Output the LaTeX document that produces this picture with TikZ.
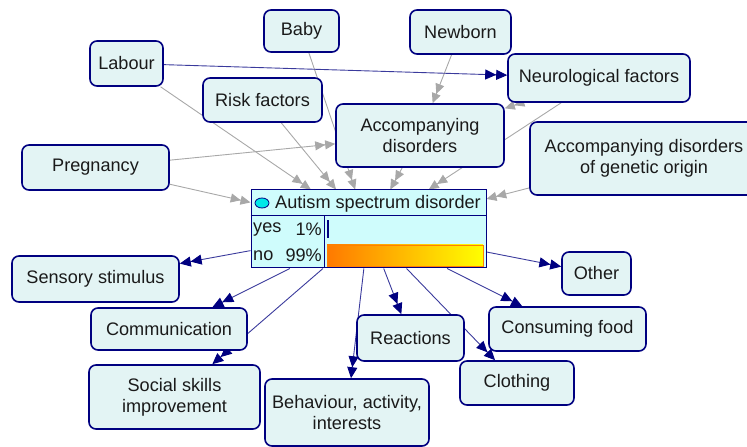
\documentclass[tikz,border=0pt]{standalone}
\usepackage{fontspec}
\setmainfont{Liberation Sans}
\usetikzlibrary{arrows.meta,backgrounds}
\definecolor{navyc}{HTML}{000080}
\definecolor{nodefill}{HTML}{E3F4F4}
\definecolor{autfill}{HTML}{CFFCFC}
\definecolor{txt}{HTML}{1A1A1A}
\definecolor{grayedge}{HTML}{A8A8A8}
\definecolor{navyedge}{HTML}{3A3A9C}
\definecolor{bulb}{HTML}{00E8E8}
\tikzset{
  box/.style={draw=navyc, line width=1.6bp, fill=nodefill, rounded corners=7bp,
    inner sep=0pt, align=center, text=txt, font=\fontsize{18.2}{21}\selectfont},
  lbl/.style={inner sep=0pt, text=txt, font=\fontsize{18.2}{21}\selectfont},
  gedge/.style={grayedge, line width=0.9bp,
    -{Triangle[length=10bp,width=9bp,fill=grayedge] Triangle[length=10bp,width=9bp,fill=grayedge]}},
  nedge/.style={navyedge, line width=0.9bp,
    -{Triangle[length=11bp,width=10bp,color=navyc] Triangle[length=11bp,width=10bp,color=navyc]}},
}
\begin{document}
\begin{tikzpicture}[x=1bp,y=-1bp]
\useasboundingbox (0,0) rectangle (747,447);
\clip (0,0) rectangle (747,447);
% nodes
\node[box, minimum width=75bp, minimum height=42bp] (baby) at (301.5,31) {Baby};
\node[box, minimum width=101bp, minimum height=44bp] (newborn) at (460.5,32) {Newborn};
\node[box, minimum width=73bp, minimum height=45bp] (labour) at (126.5,63.5) {Labour};
\node[box, minimum width=182bp, minimum height=48bp] (neuro) at (599,78) {Neurological factors};
\node[box, minimum width=119bp, minimum height=44bp] (risk) at (262.5,100) {Risk factors};
\node[box, minimum width=168bp, minimum height=63bp] (acc) at (420,135.5) {Accompanying\\disorders};
\node[box, minimum width=228bp, minimum height=73bp] (gen) at (644,158.5) {Accompanying disorders\\of genetic origin};
\node[box, minimum width=147bp, minimum height=45bp] (preg) at (95.5,167.5) {Pregnancy};
\node[box, minimum width=167bp, minimum height=46bp] (sens) at (95.5,279) {Sensory stimulus};
\node[box, minimum width=69bp, minimum height=43bp] (other) at (596.5,273.5) {Other};
\node[box, minimum width=156bp, minimum height=42bp] (comm) at (169,329) {Communication};
\node[box, minimum width=157bp, minimum height=44bp] (food) at (567.5,329) {Consuming food};
\node[box, minimum width=107bp, minimum height=46bp] (react) at (410.5,338) {Reactions};
\node[box, minimum width=114bp, minimum height=44bp] (cloth) at (517,383) {Clothing};
\node[box, minimum width=171bp, minimum height=64bp] (social) at (174.5,397) {Social skills\\improvement};
\node[box, minimum width=164bp, minimum height=67bp] (behav) at (347,412.5) {Behaviour, activity,\\interests};
% autism box
\node[draw=navyc, line width=1bp, fill=autfill, minimum width=235bp, minimum height=78bp, inner sep=0pt] (aut) at (368.5,229) {};
\draw[navyc, line width=1bp] (aut.west |- 0,216) -- (aut.east |- 0,216);
\draw[navyc, line width=1bp] (324,216) -- (aut.south -| 324,0);
\draw[navyc, fill=bulb, line width=0.8bp] (262,203) ellipse [x radius=7, y radius=5];
\node[lbl, anchor=west] (autT) at (275,203.5) {Autism spectrum disorder};
\node[lbl, anchor=west] (yesL) at (253,229.5) {yes};
\node[lbl, anchor=east] (yesP) at (322,229.5) {1\%};
\node[lbl, anchor=west] (noL) at (253,255.5) {no};
\node[lbl, anchor=east] (noP) at (322,255.5) {99\%};
\fill[navyc] (326.5,220) rectangle (328.5,238);
\shade[left color=orange!95!red, right color=yellow] (327,245) rectangle (483,266);
\draw[orange, line width=0.8bp] (327,245) rectangle (483,266);
% edges
\begin{scope}[on background layer]
\draw[gedge] (labour) -- (aut);
\draw[gedge] (baby) -- (aut);
\draw[gedge] (risk) -- (aut);
\draw[gedge] (preg) -- (aut);
\draw[gedge] (acc) -- (aut);
\draw[gedge] (neuro) -- (aut);
\draw[gedge] (gen) -- (aut);
\draw[gedge] (preg) -- (acc);
\draw[gedge] (newborn) -- (acc);
\draw[gedge] (neuro) -- (acc);
\draw[nedge] (labour) -- (neuro);
\draw[nedge] (aut) -- (sens);
\draw[nedge] (aut) -- (comm);
\draw[nedge] (aut) -- (social);
\draw[nedge] (aut) -- (behav);
\draw[nedge] (aut) -- (react);
\draw[nedge] (aut) -- (cloth);
\draw[nedge] (aut) -- (food);
\draw[nedge] (aut) -- (other);
\end{scope}
\end{tikzpicture}
\end{document}
